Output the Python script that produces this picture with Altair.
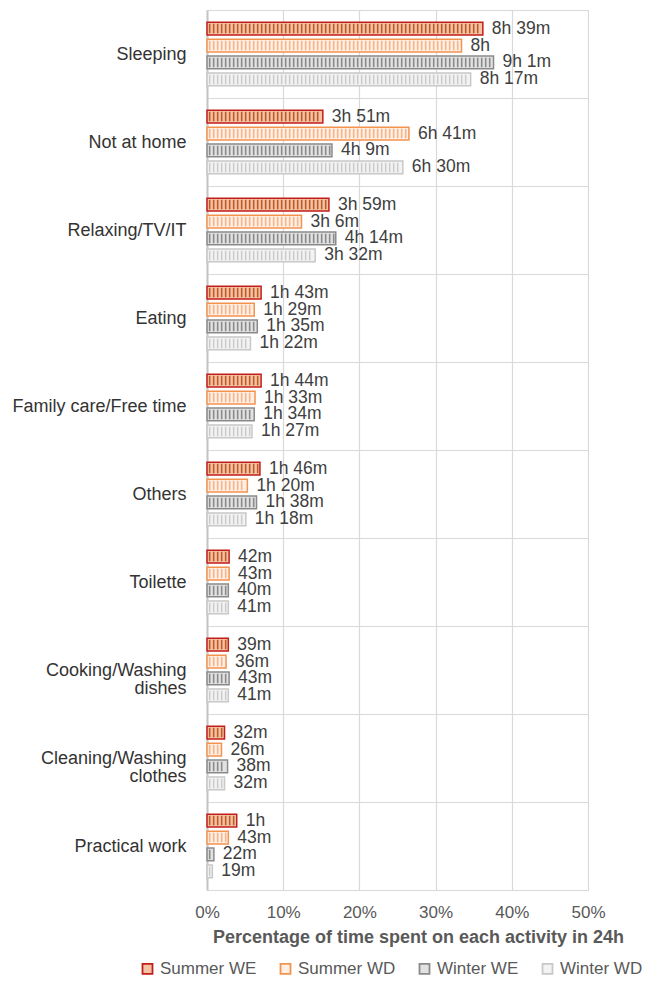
import altair as alt
import pandas as pd

# ---------------- data ----------------
categories = [
    "Sleeping", "Not at home", "Relaxing/TV/IT", "Eating",
    "Family care/Free time", "Others", "Toilette",
    "Cooking/Washing dishes", "Cleaning/Washing clothes", "Practical work",
]
series = ["Summer WE", "Summer WD", "Winter WE", "Winter WD"]

# bar lengths, % of 24h
summer_we = [36.2, 15.2, 16.0, 7.1, 7.1, 6.95, 2.9, 2.8, 2.3, 3.9]
summer_wd = [33.4, 26.5, 12.4, 6.2, 6.3, 5.3, 2.9, 2.5, 1.9, 2.8]
winter_we = [37.6, 16.4, 16.9, 6.6, 6.2, 6.5, 2.8, 2.9, 2.7, 0.9]
winter_wd = [34.6, 25.7, 14.2, 5.7, 5.9, 5.1, 2.8, 2.8, 2.3, 0.7]

# data labels (time per day)
labels_summer_we = ["8h 39m", "3h 51m", "3h 59m", "1h 43m", "1h 44m", "1h 46m", "42m", "39m", "32m", "1h"]
labels_summer_wd = ["8h", "6h 41m", "3h 6m", "1h 29m", "1h 33m", "1h 20m", "43m", "36m", "26m", "43m"]
labels_winter_we = ["9h 1m", "4h 9m", "4h 14m", "1h 35m", "1h 34m", "1h 38m", "40m", "43m", "38m", "22m"]
labels_winter_wd = ["8h 17m", "6h 30m", "3h 32m", "1h 22m", "1h 27m", "1h 18m", "41m", "41m", "32m", "19m"]

fill_colors = ["#F2C4A4", "#FFEFE4", "#E2E2E2", "#F3F3F3"]
stripe_colors = ["#BE5A28", "#F5B58A", "#8A8A8A", "#CCCCCC"]
stroke_colors = ["#C41E1A", "#F29350", "#8A8A8A", "#C8C8C8"]

FONT = "Liberation Sans, Arial, sans-serif"

# ---------------- tables ----------------
values = [summer_we, summer_wd, winter_we, winter_wd]
texts = [labels_summer_we, labels_summer_wd, labels_winter_we, labels_winter_wd]
rows = []
for s, vals, labs in zip(series, values, texts):
    for c, v, l in zip(categories, vals, labs):
        rows.append({"category": c, "series": s, "pct": v, "label": l})
df = pd.DataFrame(rows)

# vertical hatch lines inside each bar (decoration derived from bar values)
stripe_step = 0.525
stripe_rows = []
for r in rows:
    k = 0
    while 0.35 + k * stripe_step < r["pct"] - 0.25:
        stripe_rows.append({"category": r["category"], "series": r["series"],
                            "pos": 0.35 + k * stripe_step})
        k += 1
stripes = pd.DataFrame(stripe_rows)

# ---------------- encodings ----------------
label_expr = (
    "datum.label == 'Cooking/Washing dishes' ? ['Cooking/Washing', 'dishes'] : "
    "datum.label == 'Cleaning/Washing clothes' ? ['Cleaning/Washing', 'clothes'] : datum.label"
)

y_enc = alt.Y(
    "category:N", sort=categories,
    scale=alt.Scale(paddingInner=0, paddingOuter=0),
    axis=alt.Axis(
        title=None, ticks=False, labelPadding=21, labelFontSize=18,
        labelColor="#333333", labelFont=FONT, labelExpr=label_expr,
        labelLimit=300, labelLineHeight=18,
        grid=True, tickBand="extent", gridColor="#D9D9D9", gridWidth=1.2,
        domainColor="#C4C4C4", domainWidth=2,
    ),
)
yoff_enc = alt.YOffset(
    "series:N", sort=series,
    scale=alt.Scale(domain=series, paddingInner=0.25, paddingOuter=0.715),
)
x_scale = alt.Scale(domain=[0, 50], nice=False)
x_axis = alt.Axis(
    values=[0, 10, 20, 30, 40, 50], labelExpr="datum.value + '%'",
    title="Percentage of time spent on each activity in 24h",
    titleFont=FONT, titleFontSize=18, titleFontWeight="bold", titleColor="#595959",
    titleX=211, titleY=47, titleAlign="center", titleBaseline="middle",
    labelFont=FONT, labelFontSize=17, labelColor="#595959", labelPadding=14,
    labelFlush=False,
    ticks=False, domain=False, grid=True, gridColor="#D9D9D9", gridWidth=1.2,
)

legend = alt.Legend(
    title=None, orient="none", direction="horizontal",
    legendX=-68, legendY=950, padding=0,
    symbolType="square", symbolSize=100, symbolStrokeWidth=1.8,
    labelFont=FONT, labelFontSize=17, labelColor="#595959",
    labelOffset=4, columnPadding=19,
)

bars = alt.Chart(df).mark_bar(strokeWidth=1.5, opacity=1).encode(
    x=alt.X("pct:Q", scale=x_scale, axis=x_axis, stack=None),
    y=y_enc,
    yOffset=yoff_enc,
    fill=alt.Fill("series:N", sort=series,
                  scale=alt.Scale(domain=series, range=fill_colors), legend=legend),
    stroke=alt.Stroke("series:N", sort=series,
                      scale=alt.Scale(domain=series, range=stroke_colors), legend=legend),
)

hatch = alt.Chart(stripes).mark_tick(
    orient="vertical", thickness=1.6, size=9.5, opacity=1
).encode(
    x=alt.X("pos:Q", scale=x_scale, stack=None),
    y=alt.Y("category:N", sort=categories),
    yOffset=alt.YOffset("series:N", sort=series),
    color=alt.Color("series:N", sort=series,
                    scale=alt.Scale(domain=series, range=stripe_colors), legend=None),
)

text = alt.Chart(df).mark_text(
    align="left", baseline="middle", dx=9, fontSize=17.5,
    font=FONT, color="#404040",
).encode(
    x=alt.X("pct:Q", scale=x_scale, stack=None),
    y=alt.Y("category:N", sort=categories),
    yOffset=alt.YOffset("series:N", sort=series),
    text="label:N",
)

chart = alt.layer(bars, hatch, text).properties(
    width=381, height=880,
    autosize=alt.AutoSizeParams(type="none"),
    padding={"left": 199, "top": 2, "right": 56, "bottom": 88},
).configure_view(stroke=None).configure(font=FONT)

chart.save("out.html", embed_options={"renderer": "svg", "actions": False})
